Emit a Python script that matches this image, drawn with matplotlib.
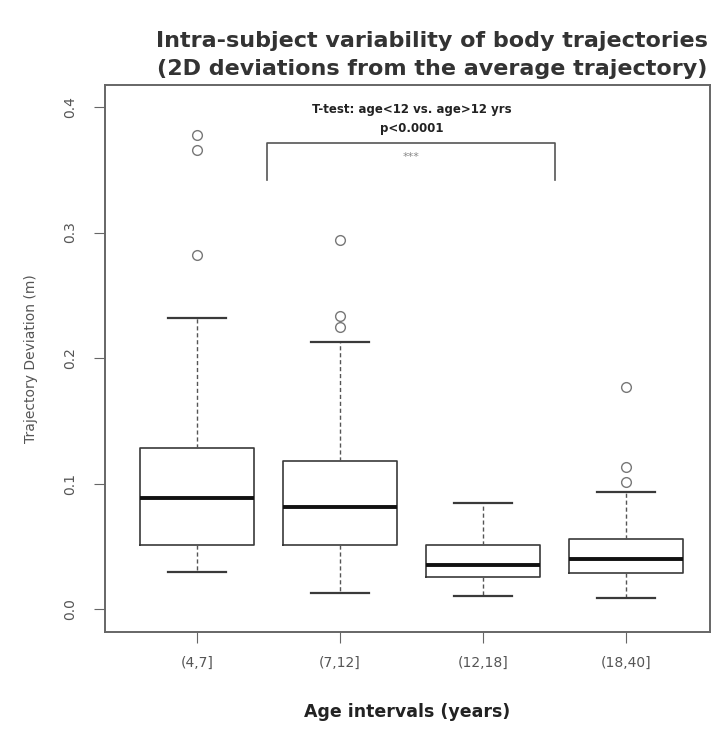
import matplotlib
matplotlib.use("Agg")
import matplotlib.pyplot as plt

# age groups and box summaries (trajectory deviation, m)
age_groups = ["(4,7]", "(7,12]", "(12,18]", "(18,40]"]
whisker_low = [0.0295, 0.0127, 0.0104, 0.0088]
q1 = [0.051, 0.051, 0.0255, 0.0287]
medians = [0.0884, 0.0813, 0.035, 0.040]
q3 = [0.128, 0.118, 0.051, 0.0558]
whisker_high = [0.232, 0.2127, 0.0845, 0.0932]
outliers = [
    [0.282, 0.366, 0.378],
    [0.2247, 0.2335, 0.294],
    [],
    [0.101, 0.113, 0.177],
]

test_title = "T-test: age<12 vs. age>12 yrs"
test_p = "p<0.0001"
bracket_top = 0.371
bracket_foot = 0.342

stats = []
for i, name in enumerate(age_groups):
    stats.append(dict(label=name, whislo=whisker_low[i], q1=q1[i],
                      med=medians[i], q3=q3[i], whishi=whisker_high[i],
                      fliers=outliers[i]))

fig = plt.figure(figsize=(7.2, 7.4), dpi=100)
ax = fig.add_axes([0.1458, 0.146, 0.8403, 0.739])

line_col = "#3a3a3a"
ax.bxp(stats, positions=range(1, 5), widths=0.8, showfliers=True,
       boxprops=dict(color=line_col, lw=1.2),
       medianprops=dict(color="#111111", lw=2.8),
       whiskerprops=dict(color="#555555", lw=1.0, ls=(0, (3, 2))),
       capprops=dict(color=line_col, lw=1.6),
       flierprops=dict(marker="o", markersize=7, markerfacecolor="none",
                       markeredgecolor="#777777", markeredgewidth=1.0))

ax.set_xlim(0.357, 4.587)
ax.set_ylim(-0.0183, 0.4175)
ax.set_yticks([0.0, 0.1, 0.2, 0.3, 0.4])
ax.set_yticklabels(["0.0", "0.1", "0.2", "0.3", "0.4"], rotation=90,
                   va="center", color="#555555", fontsize=10)
ax.set_xticks(range(1, 5))
ax.set_xticklabels(age_groups, color="#555555", fontsize=10)
ax.tick_params(axis="y", length=8, pad=12, color="#666666")
ax.tick_params(axis="x", length=8, pad=9, color="#666666")
for side in ax.spines.values():
    side.set_color("#666666")
    side.set_linewidth(1.4)

ax.set_ylabel("Trajectory Deviation (m)", color="#555555", fontsize=10,
              labelpad=18)
ax.set_xlabel("Age intervals (years)", fontweight="bold", fontsize=12.5,
              color="#222222", labelpad=24)

# significance bracket between the younger and older groups
ax.plot([1.49, 1.49, 3.5, 3.5],
        [bracket_foot, bracket_top, bracket_top, bracket_foot],
        color="#555555", lw=1.2)
ax.text(2.5, 0.360, "***", ha="center", va="center", fontsize=8,
        color="#888888")
ax.text(2.5, 0.398, test_title, ha="center", va="center", fontsize=8.5,
        fontweight="bold", color="#222222")
ax.text(2.5, 0.383, test_p, ha="center", va="center", fontsize=8.5,
        fontweight="bold", color="#222222")

fig.text(0.6, 0.945, "Intra-subject variability of body trajectories",
         ha="center", va="center", fontsize=16, fontweight="bold",
         color="#333333")
fig.text(0.6, 0.907, "(2D deviations from the average trajectory)",
         ha="center", va="center", fontsize=16, fontweight="bold",
         color="#333333")

fig.savefig("out.png", dpi=100, facecolor="white")
